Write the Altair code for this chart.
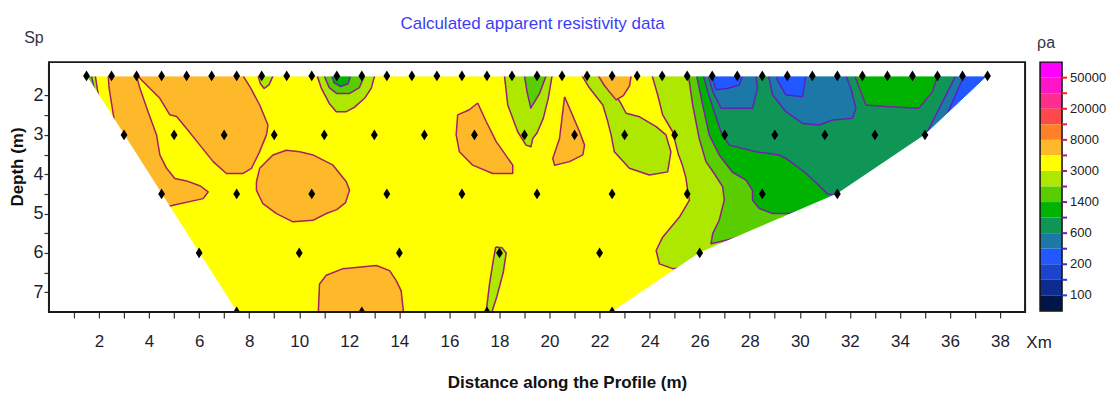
import altair as alt
import pandas as pd

FONT = "Liberation Sans, Arial, sans-serif"

# ---------------- measurement points (distance x, pseudo-depth) ----------------
DEPTH_LEVELS = [1.5, 3.0, 4.5, 6.0, 7.5]
X_LEVEL1 = [1.5, 2.5, 3.5, 4.5, 5.5, 6.5, 7.5, 8.5, 9.5, 10.5, 11.5, 12.5, 13.5,
            14.5, 15.5, 16.5, 17.5, 18.5, 19.5, 20.5, 21.5, 22.5, 23.5, 24.5, 25.5,
            26.5, 27.5, 28.5, 29.5, 30.5, 31.5, 32.5, 33.5, 34.5, 35.5, 36.5, 37.5]
X_LEVEL2 = [3, 5, 7, 9, 11, 13, 15, 17, 19, 21, 23, 25, 27, 29, 31, 33, 35]
X_LEVEL3 = [4.5, 7.5, 10.5, 13.5, 16.5, 19.5, 22.5, 25.5, 28.5, 31.5]
X_LEVEL4 = [6, 10, 14, 18, 22, 26]
X_LEVEL5 = [7.5, 12.5, 17.5, 22.5]
X_LEVELS = [X_LEVEL1, X_LEVEL2, X_LEVEL3, X_LEVEL4, X_LEVEL5]

X_TICKS = [1, 2, 3, 4, 5, 6, 7, 8, 9, 10, 11, 12, 13, 14, 15, 16, 17, 18, 19, 20,
           21, 22, 23, 24, 25, 26, 27, 28, 29, 30, 31, 32, 33, 34, 35, 36, 37, 38]
Y_TICKS = [2, 2.5, 3, 3.5, 4, 4.5, 5, 5.5, 6, 6.5, 7]

# ---------------- colour classes ----------------
CLASS_FILL = {"O": "#FDB92A", "Y": "#FFFF00", "A": "#AEE800", "L": "#5ACD00",
              "G": "#00B300", "T": "#0F9656", "S": "#1C78A6", "B": "#2158FF"}
CLASS_LINE = {"O": "#A82060", "Y": "#982070", "A": "#982070", "L": "#8A2090",
              "G": "#7A20A0", "T": "#6C20B0", "S": "#6420B8", "B": "#5422C8"}

LEGEND_COLORS = ["#FF00FF", "#FF14C8", "#FF2E8E", "#FF4848", "#FF8028", "#FDB92A",
                 "#FFFF00", "#AEE800", "#5ACD00", "#00B300", "#0F9656", "#1C78A6",
                 "#2158FF", "#1A44CC", "#0E2C90", "#00164A"]
LEGEND_TICK_COLORS = ["#FF1A1A", "#FF1A2A", "#F01A3A", "#E01E50", "#C81E58", "#A82060",
                      "#982070", "#8A2090", "#7A20A0", "#6C20B0", "#6420B8", "#5422C8",
                      "#3A2ADC", "#2A34EE", "#2040FF"]
LEGEND_LABELS = ["50000", "20000", "8000", "3000", "1400", "600", "200", "100"]

# ---------------- contour regions: (class, level, vertices) ----------------
REGIONS = [
    ("Y", 0, [(-1, 1.3), (41, 1.3), (41, 8), (-1, 8)]),
    # level 1 : regions on the yellow background
    ("A", 1, [(1.0, 1.3), (1.85, 1.3), (1.85, 1.5), (1.95, 1.9), (2.0, 2.1), (1.0, 2.1)]),
    ("O", 1, [(2.37, 1.3), (3.5, 1.3), (3.5, 1.5), (3.63, 1.81), (3.96, 2.41), (4.30, 3.0),
              (4.43, 3.51), (4.70, 3.85), (5.03, 4.11), (5.5, 4.17), (6.05, 4.3), (6.36, 4.45),
              (6.16, 4.62), (4.96, 4.79), (4.3, 4.9), (1.0, 4.9), (1.0, 2.6), (2.6, 2.6),
              (2.5, 2.2), (2.4, 1.8), (2.37, 1.5)]),
    ("O", 1, [(3.58, 1.3), (7.76, 1.3), (7.76, 1.5), (8.05, 1.8), (8.42, 2.24), (8.75, 2.75),
              (8.69, 3.0), (8.4, 3.45), (8.09, 3.85), (7.76, 3.98), (7.09, 3.98), (6.56, 3.68),
              (6.03, 3.26), (5.49, 2.83), (5.10, 2.53), (4.83, 2.49), (4.43, 2.07),
              (3.63, 1.56), (3.58, 1.5)]),
    ("A", 1, [(8.35, 1.3), (8.95, 1.3), (8.95, 1.5), (8.8, 1.72), (8.6, 1.82), (8.45, 1.7),
              (8.35, 1.5)]),
    ("A", 1, [(10.68, 1.3), (13.01, 1.3), (13.01, 1.5), (12.88, 1.81), (12.61, 2.07),
              (12.2, 2.3), (11.88, 2.41), (11.48, 2.41), (11.2, 2.2), (10.88, 1.81),
              (10.72, 1.5)]),
    ("O", 1, [(8.29, 4.19), (8.42, 3.85), (8.95, 3.51), (9.48, 3.39), (10.02, 3.43),
              (10.55, 3.51), (11.35, 3.77), (11.88, 4.19), (12.01, 4.41), (11.85, 4.72),
              (11.5, 4.9), (11.08, 5.0), (10.55, 5.17), (9.75, 5.21), (9.09, 5.0),
              (8.55, 4.75), (8.29, 4.41)]),
    ("O", 1, [(17.13, 2.19), (17.47, 2.66), (17.87, 3.17), (18.53, 3.77), (18.53, 3.98),
              (17.73, 3.98), (16.93, 3.77), (16.4, 3.43), (16.27, 3.0), (16.33, 2.49),
              (16.8, 2.36)]),
    ("A", 1, [(18.2, 1.3), (20.1, 1.3), (20.1, 1.5), (19.95, 2.07), (19.75, 2.58),
              (19.5, 2.95), (19.33, 3.09), (19.26, 3.30), (19.06, 3.26), (18.73, 2.92),
              (18.33, 2.24), (18.2, 1.5)]),
    ("A", 1, [(17.85, 5.85), (18.1, 5.87), (18.27, 6.0), (18.15, 6.5), (17.9, 7.1),
              (17.65, 7.6), (17.45, 7.6), (17.6, 6.8), (17.75, 6.2)]),
    ("O", 1, [(10.75, 7.7), (10.81, 6.79), (11.08, 6.57), (11.75, 6.4), (13.08, 6.32),
              (13.61, 6.45), (13.87, 6.7), (14.07, 6.96), (14.2, 7.7)]),
    ("O", 1, [(20.6, 2.03), (20.86, 2.41), (21.2, 2.92), (21.4, 3.26), (21.33, 3.51),
              (20.8, 3.68), (20.2, 3.77), (20.13, 3.6), (20.4, 3.09), (20.53, 2.41)]),
    ("A", 1, [(21.26, 1.3), (22.6, 1.3), (22.6, 1.5), (22.7, 2.05), (22.85, 2.2),
              (23.06, 2.45), (23.6, 2.54), (24.26, 2.79), (24.65, 3.0), (24.85, 3.43),
              (24.72, 3.94), (23.99, 4.02), (23.19, 3.85), (22.59, 3.43), (22.46, 3.0),
              (22.3, 2.6), (22.13, 2.24), (21.6, 1.81), (21.3, 1.5)]),
    ("A", 1, [(24.06, 1.3), (41, 1.3), (41, 6.0), (27, 6.2), (26.12, 6.23), (25.59, 6.36),
              (24.92, 6.4), (24.39, 6.28), (24.26, 5.94), (24.52, 5.6), (25.19, 5.09),
              (25.59, 4.66), (25.52, 4.41), (25.45, 4.1), (25.3, 3.75), (25.15, 3.5),
              (24.92, 2.92), (24.52, 2.49), (24.32, 1.98), (24.1, 1.5)]),
    # level 2
    ("L", 2, [(1.0, 1.3), (1.7, 1.3), (1.7, 1.5), (1.8, 1.8), (1.0, 1.8)]),
    ("L", 2, [(11.0, 1.3), (12.6, 1.3), (12.6, 1.5), (12.4, 1.8), (12.0, 1.95), (11.5, 1.95),
              (11.2, 1.8), (11.0, 1.5)]),
    ("L", 2, [(19.0, 1.3), (19.86, 1.3), (19.86, 1.5), (19.6, 1.95), (19.25, 2.32),
              (19.1, 1.9), (19.0, 1.5)]),
    ("O", 2, [(21.93, 1.3), (23.26, 1.3), (23.26, 1.5), (23.2, 1.75), (22.95, 2.0),
              (22.66, 2.11), (22.45, 1.95), (22.2, 1.75), (21.95, 1.5)]),
    ("L", 2, [(25.52, 1.3), (41, 1.3), (41, 5.2), (28.64, 5.43), (27.85, 5.55), (27.05, 5.68),
              (26.45, 5.77), (26.52, 5.51), (26.78, 5.17), (26.98, 4.66), (26.92, 4.32),
              (26.6, 4.0), (26.25, 3.68), (25.98, 3.09), (25.72, 2.24), (25.55, 1.5)]),
    # level 3
    ("G", 3, [(11.3, 1.3), (12.05, 1.3), (12.05, 1.5), (11.95, 1.7), (11.65, 1.77),
              (11.4, 1.68), (11.3, 1.5)]),
    ("G", 3, [(25.85, 1.3), (41, 1.3), (41, 4.85), (30.11, 4.92), (29.58, 5.0), (28.91, 5.0),
              (28.38, 4.87), (28.11, 4.66), (28.11, 4.41), (27.85, 4.15), (27.31, 3.95),
              (26.78, 3.51), (26.38, 3.0), (26.12, 2.24), (25.88, 1.5)]),
    # level 4
    ("T", 4, [(26.12, 1.3), (41, 1.3), (41, 4.55), (31.6, 4.55), (31.1, 4.5), (30.7, 4.25),
              (30.2, 3.95), (29.5, 3.62), (29.18, 3.51), (28.25, 3.43), (27.18, 3.26),
              (26.85, 2.92), (26.58, 2.41), (26.32, 1.9), (26.15, 1.5)]),
    # level 5
    ("S", 5, [(26.32, 1.3), (28.25, 1.3), (28.25, 1.5), (28.31, 1.81), (28.11, 2.32),
              (26.85, 2.32), (26.52, 1.9), (26.35, 1.5)]),
    ("S", 5, [(28.71, 1.3), (31.84, 1.3), (31.84, 1.5), (32.04, 1.81), (32.24, 2.32),
              (32.1, 2.58), (31.31, 2.62), (30.77, 2.75), (30.11, 2.71), (29.44, 2.41),
              (28.91, 1.98), (28.75, 1.5)]),
    ("G", 5, [(32.17, 1.3), (35.5, 1.3), (35.5, 1.5), (35.3, 1.9), (34.76, 2.32),
              (33.43, 2.28), (32.64, 2.24), (32.2, 1.5)]),
    ("S", 5, [(36.23, 1.3), (41, 1.3), (41, 3.05), (35.0, 3.05), (35.1, 2.92), (35.67, 2.2),
              (36.23, 1.5)]),
    # level 6
    ("B", 6, [(26.45, 1.3), (27.71, 1.3), (27.71, 1.5), (27.58, 1.73), (27.1, 1.82),
              (26.65, 1.85), (26.48, 1.5)]),
    ("B", 6, [(29.04, 1.3), (30.24, 1.3), (30.24, 1.5), (30.11, 2.03), (29.44, 1.98),
              (29.1, 1.6)]),
    ("B", 6, [(36.56, 1.3), (41, 1.3), (41, 2.5), (35.87, 2.5), (36.56, 1.5)]),
]

W, H = 977, 250

# ---------------- build tables ----------------
rows = []
for pid, (cls, lvl, verts) in enumerate(REGIONS):
    closed = list(verts) + [verts[0]]
    line_col = CLASS_FILL[cls] if lvl == 0 else CLASS_LINE[cls]
    for k, (x, d) in enumerate(closed):
        rows.append({"pid": f"p{pid:02d}", "lvl": lvl, "i": k, "x": x, "d": d,
                     "fc": CLASS_FILL[cls], "lc": line_col})

# white masks outside the measured pseudo-section (hull of the measurement points)
left_hull = [(xs[0], d) for xs, d in zip(X_LEVELS, DEPTH_LEVELS)]
right_hull = [(xs[-1], d) for xs, d in zip(X_LEVELS, DEPTH_LEVELS)]
masks = [
    [(-1, 1.5)] + left_hull + [(left_hull[-1][0], 9), (-1, 9)],
    right_hull + [(right_hull[-1][0], 9), (41, 9), (41, 1.5)],
    [(-1, 0.5), (41, 0.5), (41, 1.5), (-1, 1.5)],
]
for m, verts in enumerate(masks):
    closed = list(verts) + [verts[0]]
    for k, (x, d) in enumerate(closed):
        rows.append({"pid": f"m{m}", "lvl": 7, "i": k, "x": x, "d": d,
                     "fc": "#FFFFFF", "lc": "#FFFFFF"})
poly = pd.DataFrame(rows)

pts = pd.DataFrame([{"x": x, "d": d} for xs, d in zip(X_LEVELS, DEPTH_LEVELS) for x in xs])

# ---------------- scales / axes ----------------
xscale = alt.Scale(domain=[0, 39], nice=False, zero=False)
yscale = alt.Scale(domain=[1.15, 7.5], nice=False, zero=False, reverse=True)

xaxis = alt.Axis(values=X_TICKS, labelExpr="datum.value % 2 == 0 ? datum.value : ''",
                 tickSize=6, tickColor="#333333", tickWidth=1.2, domain=False, grid=False,
                 labelFont=FONT, labelFontSize=17, labelColor="#1e1e30", labelPadding=16,
                 labelOverlap=False, labelFlush=False, title=None)
yaxis = alt.Axis(values=Y_TICKS, labelExpr="datum.value % 1 == 0 ? datum.value : ''",
                 tickSize=5, tickColor="#333333", tickWidth=1.2, domain=False, grid=False,
                 labelFont=FONT, labelFontSize=18, labelColor="#1e1e30", labelPadding=1,
                 labelOverlap=False, labelFlush=False, title=None)


def X(field):
    return alt.X(f"{field}:Q", scale=xscale, axis=xaxis)


def Y(field):
    return alt.Y(f"{field}:Q", scale=yscale, axis=yaxis)


layers = []
for lvl in range(8):
    sub = poly[poly["lvl"] == lvl]
    sw = 1.0 if lvl in (0, 7) else 1.5
    layers.append(
        alt.Chart(sub).mark_line(strokeWidth=sw, clip=True, interpolate="linear",
                                 strokeJoin="round")
        .encode(x=X("x"), y=Y("d"), order=alt.Order("i:Q"), detail="pid:N",
                fill=alt.Fill("fc:N", scale=None), stroke=alt.Stroke("lc:N", scale=None))
    )

DIAMOND = "M0,-1L0.62,0L0,1L-0.62,0Z"
points = alt.Chart(pts).mark_point(shape=DIAMOND, filled=True, color="black", size=120,
                                   opacity=1, clip=True).encode(x=X("x"), y=Y("d"))

frame = alt.Chart(pd.DataFrame({"a": [0]})).mark_rect(
    fillOpacity=0, stroke="#1a1a1a", strokeWidth=2
).encode(x=alt.value(0), x2=alt.value(W), y=alt.value(0), y2=alt.value(H))

TEXTS = pd.DataFrame({
    "t": ["Sp", "Xm", "Depth (m)", "Distance along the Profile (m)",
          "Calculated apparent resistivity data"],
})


def label(idx, px, py, size, color, weight="normal", angle=0):
    return alt.Chart(TEXTS.iloc[[idx]]).mark_text(
        font=FONT, fontSize=size, color=color, fontWeight=weight, angle=angle,
        align="center", baseline="middle"
    ).encode(x=alt.value(px), y=alt.value(py), text="t:N")


sp_text = label(0, -15, -24, 16, "#333344")
xm_text = label(1, 991, 281, 17, "#222233")
ytitle = label(2, -31, 105, 17, "#111111", "bold", 270)
xtitle = label(3, 519, H + 71, 17, "#111111", "bold")
ttl = label(4, 484, -38, 17, "#3D3DF5")

main = alt.layer(*layers, points, frame, sp_text, xm_text, ytitle, xtitle, ttl).properties(
    width=W, height=H)

# ---------------- colour bar ----------------
boxes = pd.DataFrame({"y0": list(range(16)), "y1": [i + 1 for i in range(16)],
                      "c": LEGEND_COLORS})
ticks = pd.DataFrame({"b": [i + 1 for i in range(15)], "c": LEGEND_TICK_COLORS})
labs = pd.DataFrame({"b": [1, 3, 5, 7, 9, 11, 13, 15], "lab": LEGEND_LABELS})
lscale = alt.Scale(domain=[0, 16], nice=False, zero=False, reverse=True)

bar_rects = alt.Chart(boxes).mark_rect().encode(
    y=alt.Y("y0:Q", scale=lscale, axis=None), y2="y1:Q",
    x=alt.value(0), x2=alt.value(22), color=alt.Color("c:N", scale=None))
bar_frame = alt.Chart(pd.DataFrame({"a": [0]})).mark_rect(
    fillOpacity=0, stroke="#111111", strokeWidth=1.5
).encode(x=alt.value(0), x2=alt.value(22), y=alt.value(0), y2=alt.value(249))
bar_ticks = alt.Chart(ticks).mark_rule(strokeWidth=2).encode(
    y=alt.Y("b:Q", scale=lscale, axis=None), x=alt.value(22), x2=alt.value(27),
    color=alt.Color("c:N", scale=None))
bar_labels = alt.Chart(labs).mark_text(font=FONT, fontSize=13, color="#222222",
                                       align="left", baseline="middle").encode(
    y=alt.Y("b:Q", scale=lscale, axis=None), x=alt.value(30), text="lab:N")
rho = alt.Chart(pd.DataFrame({"t": ["ρa"]})).mark_text(
    font=FONT, fontSize=16, color="#333344", align="center", baseline="middle"
).encode(x=alt.value(6), y=alt.value(-19), text="t:N")

legend = alt.layer(bar_rects, bar_frame, bar_ticks, bar_labels, rho).properties(width=22, height=249)

chart = alt.hconcat(main, legend, spacing=15, bounds="flush").configure_view(
    strokeWidth=0
).properties(padding={"left": 1, "top": 7, "right": 0, "bottom": 0}, background="white")

chart.save("out.html", embed_options={"renderer": "svg", "actions": False})
